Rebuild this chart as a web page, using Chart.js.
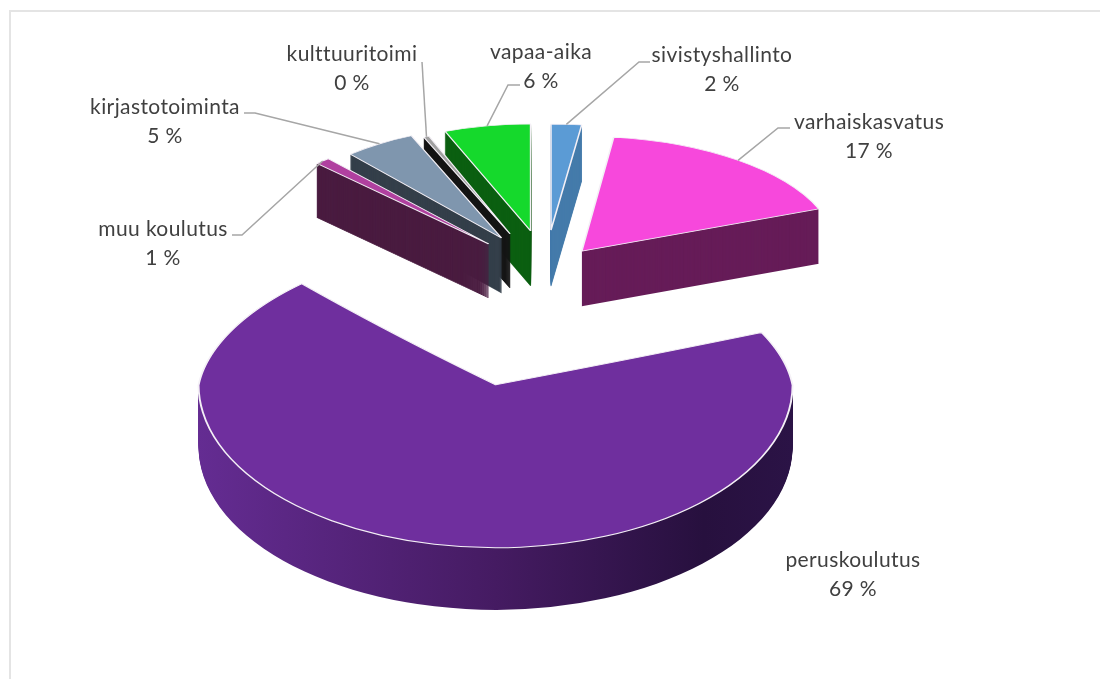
<!DOCTYPE html>
<html>
<head>
<meta charset="utf-8">
<title>Menot tehtävittäin</title>
<script src="https://cdn.jsdelivr.net/npm/chart.js@4"></script>
<style>
  html, body { margin: 0; background: #fff; }
  #wrap { width: 1100px; height: 679px; }
</style>
</head>
<body>
<div id="wrap"><canvas id="pie"></canvas></div>
<script>
// clockwise from twelve o'clock
const categories = ["sivistyshallinto", "varhaiskasvatus", "peruskoulutus", "muu koulutus", "kirjastotoiminta", "kulttuuritoimi", "vapaa-aika"];
const shares = [2, 17, 68.6, 1, 5, 0.4, 6];

// 3D look
const topColors = ["#5b9bd5", "#f748dc", "#6f2f9e", "#b0409f", "#7f96ae", "#a0a0a0", "#15d92c"];
const wallColors = ["#457bab", "#661c58", null, "#4a1c40", "#343f4a", "#151515", "#0b5f10"];
const wallStroke = [0.8, 0, 0, 1.2, 0.8, 1.2, 0.8]; // thin slices leave gaps between repeats otherwise
const radiusX = [245, 255, 297, 244, 230, 220, 232];
const radiusY = [106, 115, 163, 113, 111, 105, 107];
const backRadiusY = [null, null, 142, null, null, null, null];
const foreshorten = 0.0007; // x shrink per pixel behind the big slice's tip
const explodeX = [95, 60, 240, 83, 82, 92, 77];
const explodeY = [52, 39, 105, 52, 52, 52, 52];
const depth = [56, 55, 62, 54, 55, 54, 55];
const drawOrder = [6, 5, 4, 3, 0, 1, 2];

// label placement
const labelX = [722, 869, 853, 163, 165, 352, 541];
const labelY = [55, 122, 560, 229, 107, 54, 52];
const labelGap = 29;
const leaderFrom = [[650, 62], [790, 128], null, [232, 235], [244, 113], [422, 62], [520, 85]];
const leaderElbow = [[639, 62], [778, 128], null, [242, 235], [255, 113], [422, 62], [508, 85]];

function midAngle(arc) {
  return (arc.startAngle + arc.endAngle) / 2 + Math.PI / 2; // 0 = up, clockwise
}

function apex(arc, i) {
  const a = midAngle(arc);
  return { x: arc.x + Math.sin(a) * explodeX[i], y: arc.y - Math.cos(a) * explodeY[i] };
}

// draws the library's arc element squashed onto the slice's own ellipse
function drawArc(ctx, arc, p, rx, ry, style, dy) {
  const saved = arc.options;
  arc.options = Object.assign({}, saved, style, { offset: 0 });
  ctx.save();
  ctx.translate(p.x, p.y + dy);
  ctx.scale(rx / arc.outerRadius, ry / arc.outerRadius);
  ctx.translate(-arc.x, -arc.y);
  arc.draw(ctx);
  ctx.restore();
  arc.options = saved;
}

function clipBand(ctx, chart, top, bottom) {
  ctx.beginPath();
  ctx.rect(0, top, chart.width, bottom - top);
  ctx.clip();
}

const pie3d = {
  id: "pie3d",
  beforeDatasetsDraw(chart) {
    const ctx = chart.ctx;
    const arcs = chart.getDatasetMeta(0).data;

    // frame
    ctx.save();
    ctx.strokeStyle = "#e4e4e4";
    ctx.lineWidth = 2;
    ctx.beginPath();
    ctx.moveTo(10, chart.height);
    ctx.lineTo(10, 11);
    ctx.lineTo(chart.width, 11);
    ctx.stroke();
    ctx.restore();

    drawOrder.forEach(i => {
      const arc = arcs[i];
      const p = apex(arc, i);
      const rx = radiusX[i], ry = radiusY[i];
      const split = backRadiusY[i] !== null;
      const tipRow = Math.round(p.y);

      // side wall: the slice repeated downwards
      let wall = wallColors[i];
      if (wall === null) {
        wall = ctx.createLinearGradient(arc.x - arc.outerRadius, 0, arc.x + arc.outerRadius, 0);
        wall.addColorStop(0, "#642c92");
        wall.addColorStop(0.5, "#451b62");
        wall.addColorStop(0.85, "#27103e");
        wall.addColorStop(1, "#2b1346");
      }
      ctx.save();
      if (split) clipBand(ctx, chart, tipRow, chart.height);
      for (let d = depth[i]; d >= 1; d--) {
        drawArc(ctx, arc, p, rx, ry, { backgroundColor: wall, borderColor: wall, borderWidth: wallStroke[i] }, d);
      }
      ctx.restore();

      // top face
      const face = { backgroundColor: topColors[i], borderColor: "#f4f0f6", borderWidth: 1.6 };
      if (split) {
        ctx.save();
        clipBand(ctx, chart, tipRow, chart.height);
        drawArc(ctx, arc, p, rx, ry, face, 0);
        ctx.restore();
        // behind the tip: one pixel row at a time, narrowing towards the back
        for (let row = tipRow - 1; row > tipRow - backRadiusY[i] - 2; row--) {
          ctx.save();
          clipBand(ctx, chart, row, row + 1);
          drawArc(ctx, arc, p, rx * (1 - foreshorten * (tipRow - row)), backRadiusY[i], face, 0);
          ctx.restore();
        }
      } else {
        drawArc(ctx, arc, p, rx, ry, face, 0);
      }
    });

    // leader lines end on the slice's outer edge, at its middle angle
    ctx.save();
    ctx.strokeStyle = "#a6a6a6";
    ctx.lineWidth = 1.5;
    arcs.forEach((arc, i) => {
      if (!leaderFrom[i]) return;
      const p = apex(arc, i);
      const a = midAngle(arc);
      ctx.beginPath();
      ctx.moveTo(leaderFrom[i][0], leaderFrom[i][1]);
      ctx.lineTo(leaderElbow[i][0], leaderElbow[i][1]);
      ctx.lineTo(p.x + Math.sin(a) * radiusX[i], p.y - Math.cos(a) * radiusY[i]);
      ctx.stroke();
    });
    ctx.restore();

    // labels
    ctx.save();
    ctx.font = '21px Lato';
    ctx.letterSpacing = "0.4px";
    ctx.fillStyle = "#404040";
    ctx.textAlign = "center";
    ctx.textBaseline = "middle";
    categories.forEach((name, i) => {
      ctx.fillText(name, labelX[i], labelY[i]);
      ctx.fillText(Math.round(shares[i]) + " %", labelX[i], labelY[i] + labelGap);
    });
    ctx.restore();

    return false; // everything is drawn above
  }
};

new Chart(document.getElementById("pie"), {
  type: "pie",
  data: {
    labels: categories,
    datasets: [{ data: shares, backgroundColor: topColors, offset: explodeX }]
  },
  options: {
    responsive: true,
    maintainAspectRatio: false,
    animation: false,
    radius: 245,
    layout: { padding: { right: 10, bottom: 115 } },
    plugins: { legend: { display: false }, tooltip: { enabled: false } }
  },
  plugins: [pie3d]
});
</script>
</body>
</html>
